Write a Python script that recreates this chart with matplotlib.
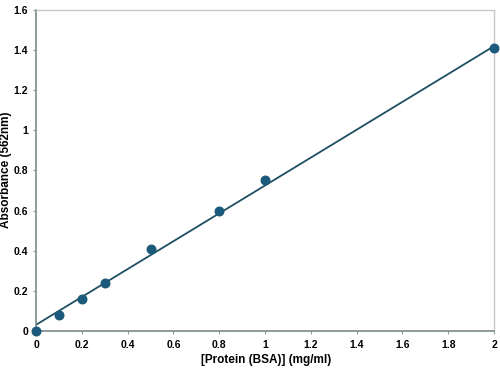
import matplotlib.pyplot as plt
import numpy as np

# BSA standard curve
protein = [0, 0.1, 0.2, 0.3, 0.5, 0.8, 1.0, 2.0]
absorbance = [0.0, 0.08, 0.16, 0.24, 0.41, 0.60, 0.75, 1.41]
fit_intercept = 0.03
fit_slope = 0.695

x_ticks = [0, 0.2, 0.4, 0.6, 0.8, 1, 1.2, 1.4, 1.6, 1.8, 2]
x_labels = ['0', '0.2', '0.4', '0.6', '0.8', '1', '1.2', '1.4', '1.6', '1.8', '2']
y_ticks = [0, 0.2, 0.4, 0.6, 0.8, 1, 1.2, 1.4, 1.6]
y_labels = ['0', '0.2', '0.4', '0.6', '0.8', '1', '1.2', '1.4', '1.6']

plt.rcParams['font.family'] = ['Liberation Sans', 'DejaVu Sans']

fig = plt.figure(figsize=(5, 3.73), dpi=100)
ax = fig.add_axes([0.072, 0.113, 0.916, 0.86])

fx = np.array([0, 2])
ax.plot(fx, fit_intercept + fit_slope * fx, color='#1f4f63', lw=1.3, zorder=2)
ax.scatter(protein, absorbance, s=38, color='#1b5a7a', zorder=3, clip_on=False)

ax.set_xlim(0, 2)
ax.set_ylim(0, 1.6)
ax.set_xticks(x_ticks)
ax.set_xticklabels(x_labels)
ax.set_yticks(y_ticks)
ax.set_yticklabels(y_labels)
ax.tick_params(labelsize=7.5, length=2.5, color='#999999', width=0.8, pad=3)
ax.tick_params(axis='x', pad=4)
for lab in ax.get_xticklabels() + ax.get_yticklabels():
    lab.set_fontweight('bold')

for side in ['left', 'bottom']:
    ax.spines[side].set_color('#7a8a8c')
    ax.spines[side].set_linewidth(1.2)
for side in ['top', 'right']:
    ax.spines[side].set_color('#c8c8c8')
    ax.spines[side].set_linewidth(1.0)

fig.text(0.532, 0.035, '[Protein (BSA)] (mg/ml)', fontsize=8.5, fontweight='bold',
         ha='center', va='center')
fig.text(0.013, 0.544, 'Absorbance (562nm)', fontsize=8.5, fontweight='bold',
         rotation=90, ha='center', va='center')

fig.savefig('out.png', dpi=100)
